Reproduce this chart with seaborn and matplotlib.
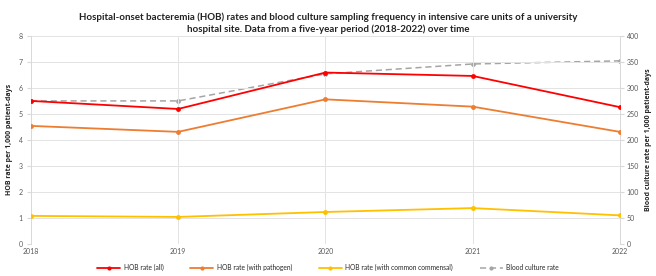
import matplotlib
matplotlib.use("Agg")
import matplotlib.pyplot as plt
import seaborn as sns
import pandas as pd
from matplotlib.lines import Line2D

years = [2018, 2019, 2020, 2021, 2022]
hob_all = [5.50, 5.19, 6.59, 6.46, 5.26]
hob_pathogen = [4.54, 4.31, 5.56, 5.28, 4.31]
hob_commensal = [1.08, 1.04, 1.23, 1.38, 1.10]
blood_culture = [275, 275, 327, 346, 352]

series_names = ["HOB rate (all)", "HOB rate (with pathogen)",
                "HOB rate (with common commensal)"]
bc_name = "Blood culture rate"
colors = {"HOB rate (all)": "#FF0000", "HOB rate (with pathogen)": "#ED7D31",
          "HOB rate (with common commensal)": "#FFC000", bc_name: "#A5A5A5"}

df = pd.DataFrame({
    "year": years * 3,
    "value": hob_all + hob_pathogen + hob_commensal,
    "series": [s for s in series_names for _ in years],
})
dfb = pd.DataFrame({"year": years, "value": blood_culture, "series": bc_name})

sns.set_style("white")
plt.rcParams["font.family"] = ["Lato", "DejaVu Sans"]

fig = plt.figure(figsize=(6.56, 2.76), dpi=100)
ax = fig.add_axes([0.047, 0.116, 0.898, 0.754])
ax2 = ax.twinx()

sns.lineplot(data=df, x="year", y="value", hue="series", palette=colors,
             marker="o", markersize=3.5, markeredgewidth=0, linewidth=1.3,
             ax=ax, legend=False, zorder=3)
sns.lineplot(data=dfb, x="year", y="value", color=colors[bc_name],
             marker="o", markersize=3.5, markeredgewidth=0, linewidth=1.1,
             linestyle=(0, (4, 2.5)), ax=ax2, legend=False, zorder=2)

ax.set_xlim(2018, 2022)
ax.set_ylim(0, 8)
ax2.set_ylim(0, 400)
ax.set_xticks(years)
ax.set_yticks(range(0, 9))
ax2.set_yticks(range(0, 401, 50))
ax.tick_params(axis="both", labelsize=5, length=0, pad=3, colors="#595959")
ax2.tick_params(axis="y", labelsize=5, length=3, pad=2, colors="#595959",
                color="#D9D9D9")
ax.tick_params(axis="y", length=3, color="#D9D9D9")
ax.grid(True, color="#E3E3E3", linewidth=0.7)
ax.set_axisbelow(True)
ax.set_xlabel("")
ax.set_ylabel("HOB rate per 1,000 patient-days", fontsize=5.0, fontweight="bold",
              color="#262626", family=["Open Sans", "DejaVu Sans"])
ax2.set_ylabel("Blood culture rate per 1,000 patient-days", fontsize=5.0,
               fontweight="bold", color="#262626",
               family=["Open Sans", "DejaVu Sans"])
for a in (ax, ax2):
    for side in ("top", "bottom"):
        a.spines[side].set_visible(False)
    for side in ("left", "right"):
        a.spines[side].set_color("#D9D9D9")
        a.spines[side].set_linewidth(0.7)
ax.set_zorder(ax2.get_zorder() + 1)
ax.patch.set_visible(False)

fig.suptitle("Hospital-onset bacteremia (HOB) rates and blood culture sampling frequency in intensive care units of a university\nhospital site. Data from a five-year period (2018-2022) over time",
             fontsize=7.0, fontweight="bold", y=0.955, color="#222222",
             linespacing=1.35)

handles = [Line2D([], [], color=colors[s], marker="o", markersize=3,
                  markeredgewidth=0, linewidth=1.3) for s in series_names]
handles.append(Line2D([], [], color=colors[bc_name], marker="o", markersize=3,
                      markeredgewidth=0, linewidth=1.1, linestyle=(0, (4, 2.5))))
fig.legend(handles, series_names + [bc_name], loc="center",
           bbox_to_anchor=(0.5, 0.03), ncol=4, fontsize=4.8, frameon=False,
           handlelength=3.5, columnspacing=4, handletextpad=0.5)

fig.savefig("out.png", dpi=100)
